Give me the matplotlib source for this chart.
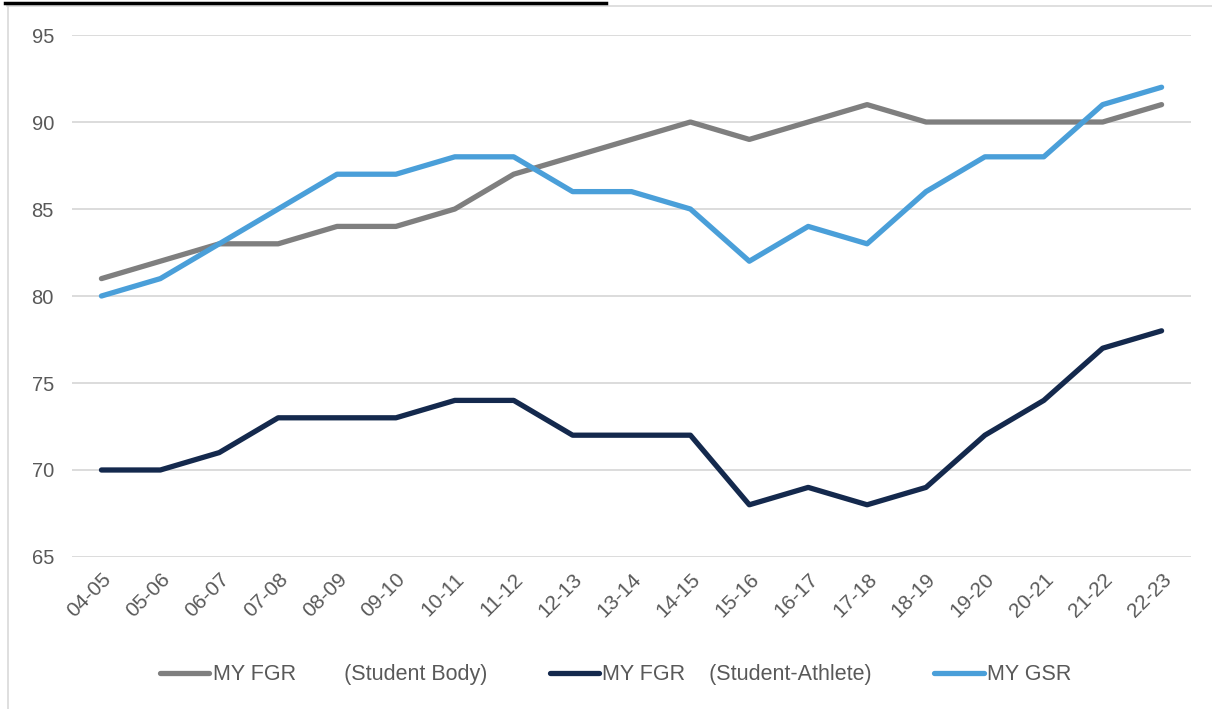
import numpy as np
import matplotlib.pyplot as plt
from matplotlib.lines import Line2D

## data
seasons = ["04-05", "05-06", "06-07", "07-08", "08-09", "09-10", "10-11", "11-12",
           "12-13", "13-14", "14-15", "15-16", "16-17", "17-18", "18-19", "19-20",
           "20-21", "21-22", "22-23"]
fgr_body = [81, 82, 83, 83, 84, 84, 85, 87, 88, 89, 90, 89, 90, 91, 90, 90, 90, 90, 91]
fgr_athlete = [70, 70, 71, 73, 73, 73, 74, 74, 72, 72, 72, 68, 69, 68, 69, 72, 74, 77, 78]
gsr = [80, 81, 83, 85, 87, 87, 88, 88, 86, 86, 85, 82, 84, 83, 86, 88, 88, 91, 92]

labels = ["MY FGR        (Student Body)", "MY FGR    (Student-Athlete)", "MY GSR"]
colors = ["#7f7f7f", "#14294d", "#4a9fd9"]
yticks = [65, 70, 75, 80, 85, 90, 95]

fig = plt.figure(figsize=(12.12, 7.09), dpi=100)
ax = fig.add_axes([0.0594, 0.2144, 0.9233, 0.7362])

x = np.arange(len(seasons))
for vals, c, lab in zip([fgr_body, fgr_athlete, gsr], colors, labels):
    ax.plot(x, vals, color=c, lw=3.8, label=lab, solid_capstyle="round",
            solid_joinstyle="round", zorder=3)

ax.set_xlim(-0.5, len(seasons) - 0.5)
ax.set_ylim(65, 95)
ax.set_yticks(yticks)
ax.set_xticks(x)
ax.set_xticklabels(seasons, rotation=45, ha="right", rotation_mode="anchor")
ax.grid(axis="y", color="#d9d9d9", lw=1.3)
for s in ax.spines.values():
    s.set_visible(False)
ax.tick_params(axis="both", length=0, colors="#595959")
ax.tick_params(axis="y", pad=13, labelsize=14.5)
ax.tick_params(axis="x", pad=9, labelsize=15)
for t in ax.get_xticklabels() + ax.get_yticklabels():
    t.set_family(["Liberation Sans", "DejaVu Sans"])

handles = [Line2D([0], [0], color=c, lw=3.8, solid_capstyle="round") for c in colors]
fig.legend(handles, labels, loc="center", bbox_to_anchor=(0.508, 0.048), ncol=3,
           frameon=False, handlelength=2.3, handletextpad=0.15, columnspacing=2.9,
           prop={"family": ["Liberation Sans", "DejaVu Sans"], "size": 15.5},
           labelcolor="#595959")

# frame bits from the screenshot
fig.add_artist(Line2D([0.006, 1.0], [0.9915, 0.9915], color="#d9d9d9", lw=1.2))
fig.add_artist(Line2D([0.0062, 0.0062], [0.0, 0.9915], color="#d9d9d9", lw=1.2))
fig.add_artist(Line2D([0.004, 0.5], [0.996, 0.996], color="black", lw=2.5))

fig.savefig("out.png", dpi=100)
